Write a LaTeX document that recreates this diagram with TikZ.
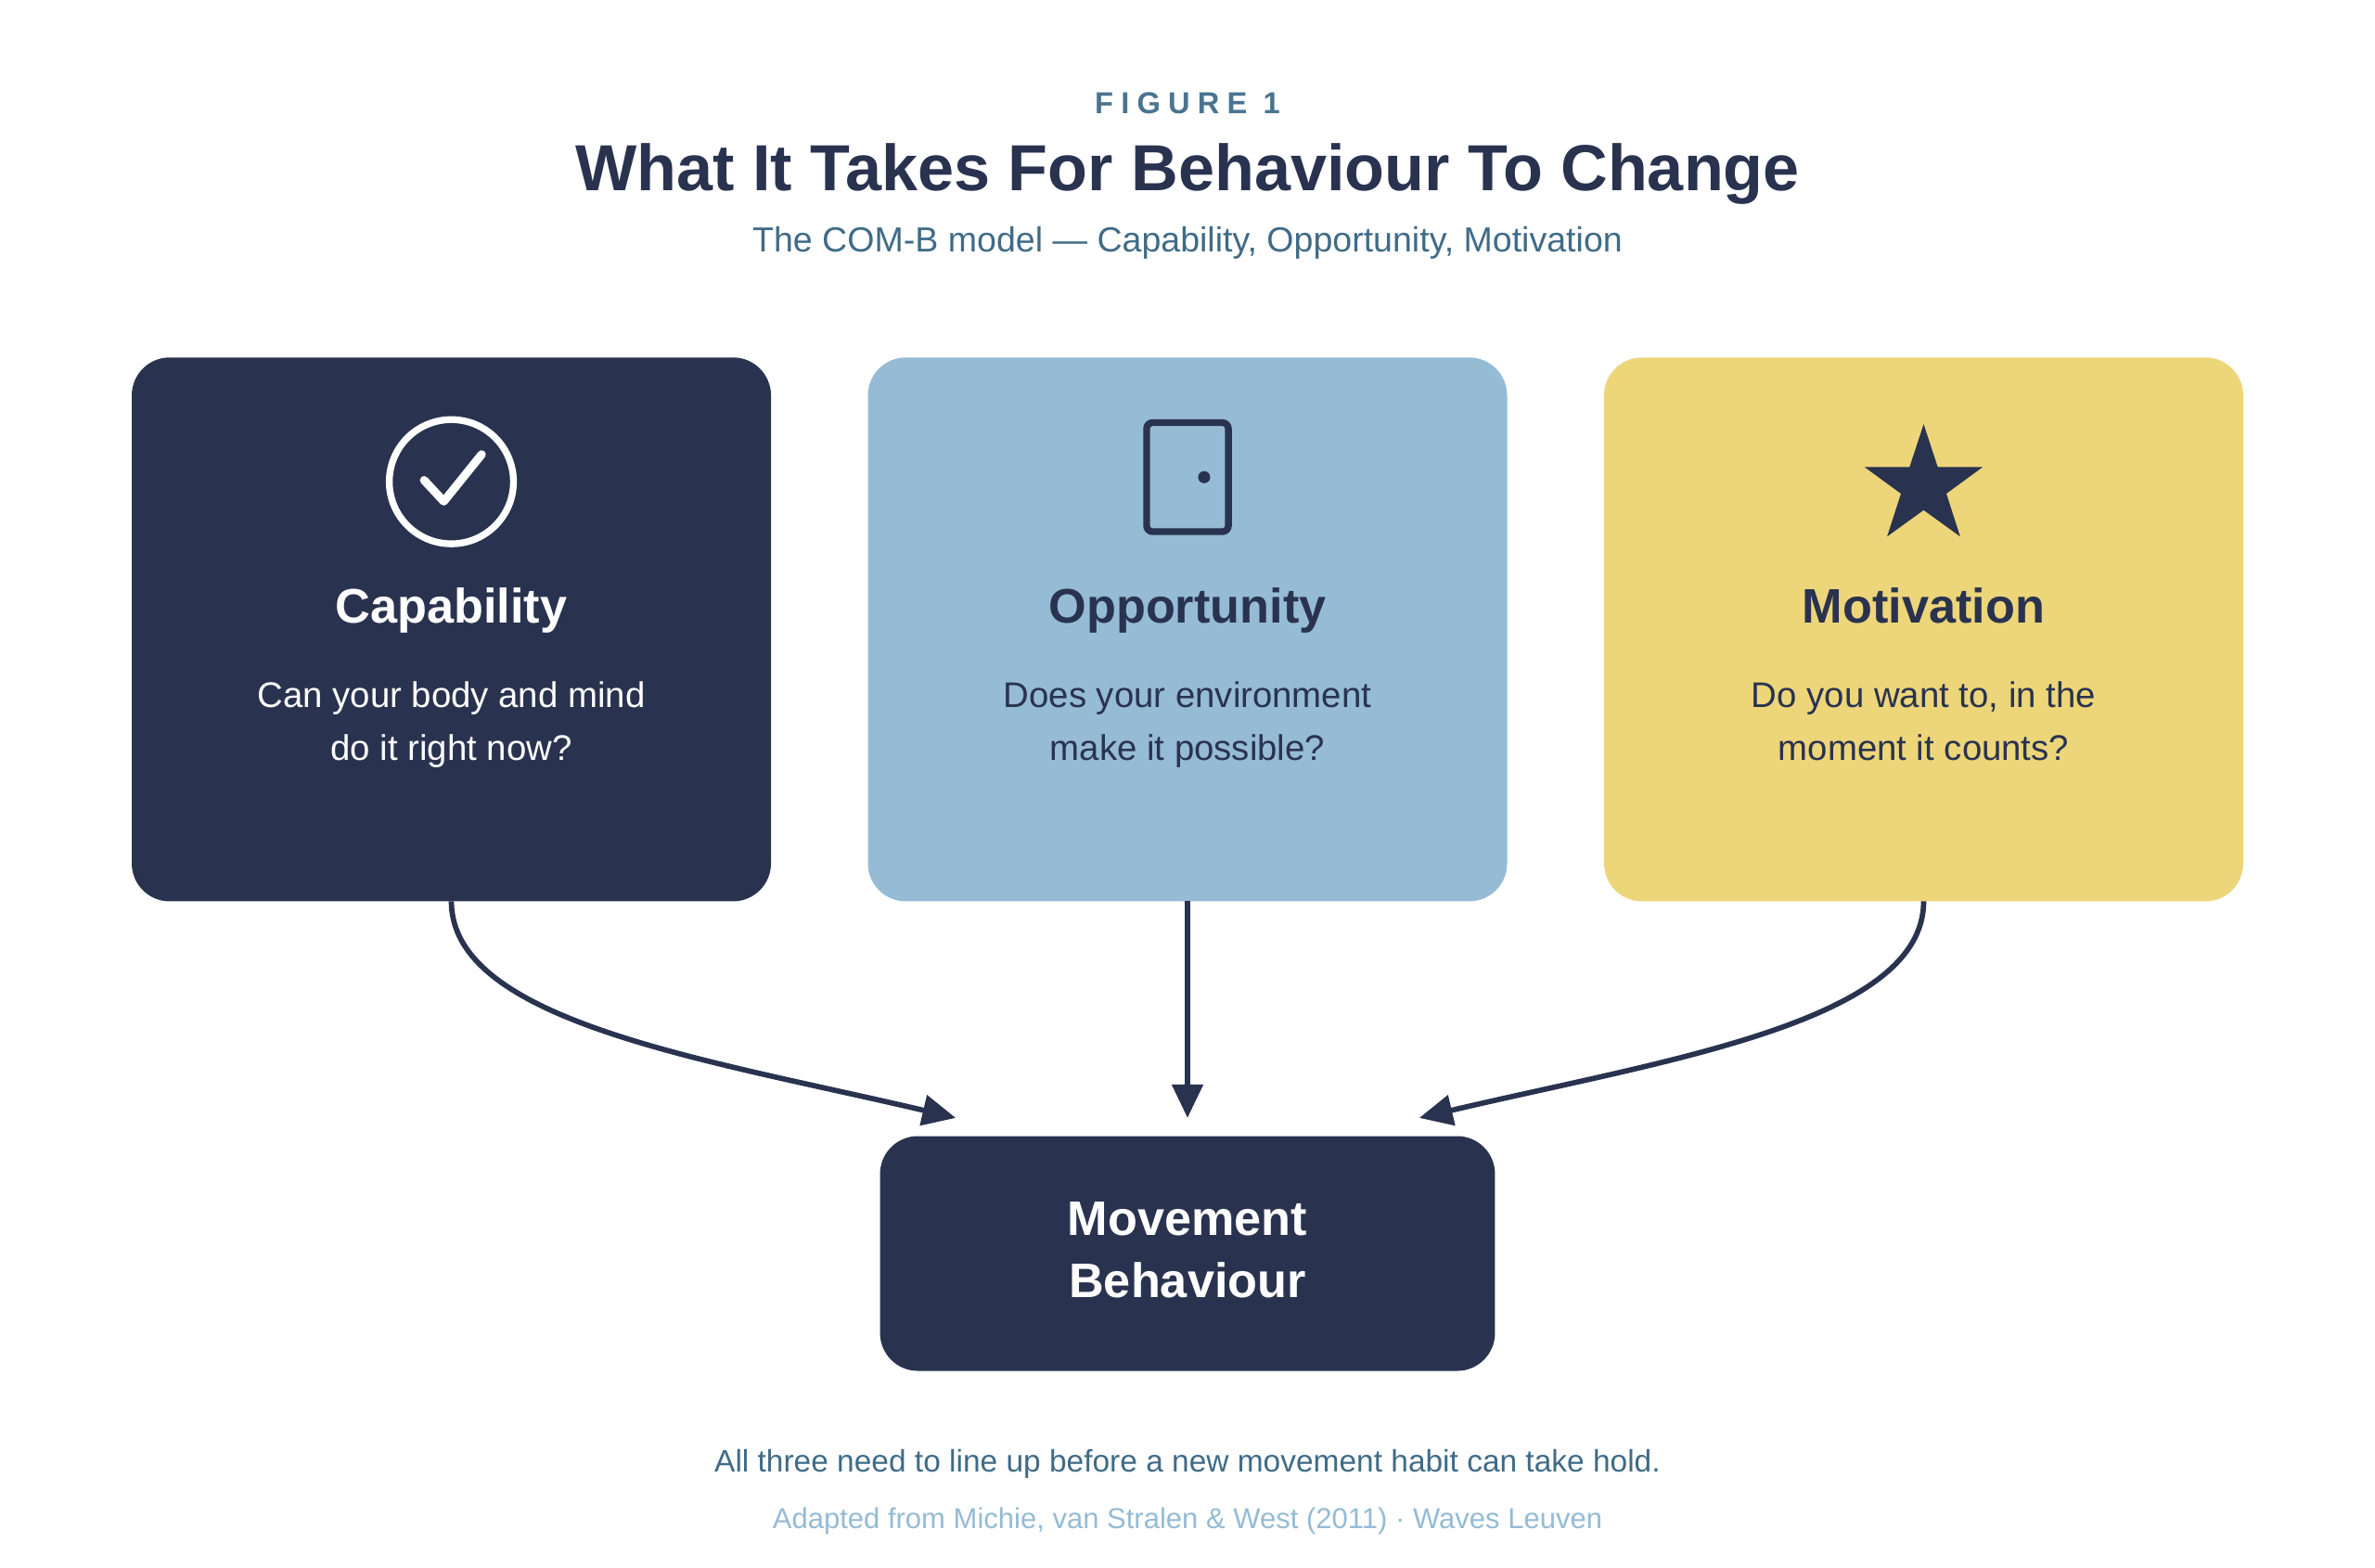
\documentclass[tikz,border=0pt]{standalone}
\usepackage{fontspec}
\setmainfont{Liberation Sans}
\usetikzlibrary{arrows.meta,shapes.geometric}
\definecolor{navy}{HTML}{29334F}
\definecolor{sky}{HTML}{95BBD5}
\definecolor{sand}{HTML}{EDD57A}
\definecolor{slate}{HTML}{3F6B87}
\definecolor{figc}{HTML}{4A7490}
\begin{document}
\begin{tikzpicture}[x=1pt,y=-1pt,
  card/.style={rounded corners=25pt},
  head/.style={font=\fontsize{32}{38}\selectfont\bfseries,anchor=base},
  body/.style={font=\fontsize{23.5}{35}\selectfont,align=center,anchor=base},
  conn/.style={navy,line width=3.5pt,-{Triangle[length=22pt,width=20pt]}}]
\useasboundingbox (0,0) rectangle (1568,1035);
\node[figc,font=\fontsize{20}{24}\selectfont\bfseries\addfontfeature{LetterSpace=25},anchor=base] (fig) at (784,75) {FIGURE 1};
\node[navy,font=\fontsize{43}{50}\selectfont\bfseries,anchor=base] (title) at (784,126) {What It Takes For Behaviour To Change};
\node[slate,font=\fontsize{23}{27}\selectfont,anchor=base] (sub) at (784,166) {The COM-B model — Capability, Opportunity, Motivation};
% cards
\fill[navy,card] (87,236) rectangle (509,595);
\fill[sky,card] (573,236) rectangle (995,595);
\fill[sand,card] (1059,236) rectangle (1481,595);
\fill[navy,card] (581,750) rectangle (987,905);
\coordinate (c1) at (298,595);
\coordinate (c2) at (784,595);
\coordinate (c3) at (1270,595);
\coordinate (m1) at (631,738);
\coordinate (m2) at (784,738);
\coordinate (m3) at (937,738);
% icons
\draw[white,line width=4.5pt] (298,318) circle (41);
\draw[white,line width=5.5pt,line cap=round,line join=round] (280,317) -- (293,331) -- (318,300);
\draw[navy,line width=4.5pt,rounded corners=4pt] (757,279) rectangle (811,351);
\fill[navy] (795,315) circle (4);
\node[star,star points=5,star point ratio=2.6,fill=navy,minimum size=82pt,inner sep=0] (st) at (1270,321) {};
% texts
\node[head,white] (h1) at (298,411) {Capability};
\node[head,navy] (h2) at (784,411) {Opportunity};
\node[head,navy] (h3) at (1270,411) {Motivation};
\node[body,white] (b1) at (298,502) {Can your body and mind\\do it right now?};
\node[body,navy] (b2) at (784,502) {Does your environment\\make it possible?};
\node[body,navy] (b3) at (1270,502) {Do you want to, in the\\moment it counts?};
\node[white,font=\fontsize{32}{41}\selectfont\bfseries,align=center] (mb) at (784,825) {Movement\\Behaviour};
% connectors
\draw[conn] (c1) .. controls (298,675) and (470,700) .. (m1);
\draw[conn] (c2) -- (m2);
\draw[conn] (c3) .. controls (1270,675) and (1098,700) .. (m3);
\node[slate,font=\fontsize{20.5}{24}\selectfont,anchor=base] (f1) at (784,972) {All three need to line up before a new movement habit can take hold.};
\node[sky,font=\fontsize{19}{23}\selectfont,anchor=base] (f2) at (784,1009) {Adapted from Michie, van Stralen \& West (2011) · Waves Leuven};
\end{tikzpicture}
\end{document}
